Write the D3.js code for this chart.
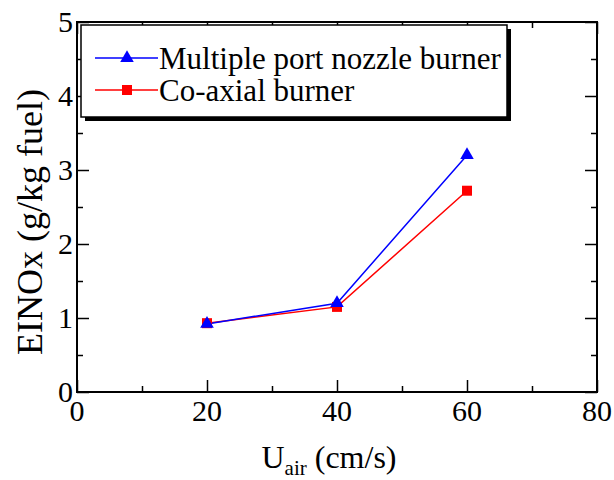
<!DOCTYPE html>
<html>
<head>
<meta charset="utf-8">
<script src="https://cdn.jsdelivr.net/npm/d3@7"></script>
<style>
  body { margin: 0; background: #fff; }
</style>
</head>
<body>
<svg id="chart" width="614" height="480"></svg>
<script>
const X_VALUES = [20, 40, 60]
const MULTI_PORT = [0.92, 1.2, 3.2]
const CO_AXIAL = [0.93, 1.15, 2.72]
const SERIES_NAMES = ['Multiple port nozzle burner', 'Co-axial burner']
const X_TICKS = [0, 20, 40, 60, 80]
const Y_TICKS = [0, 1, 2, 3, 4, 5]

const FONT = "'Liberation Serif', 'Times New Roman', serif"
const margin = { top: 22, right: 17, bottom: 88, left: 77 }
const width = 614
const height = 480

const svg = d3.select('#chart')
  .attr('font-family', FONT)

const x = d3.scaleLinear()
  .domain([0, 80])
  .range([margin.left, width - margin.right])

const y = d3.scaleLinear()
  .domain([0, 5])
  .range([height - margin.bottom, margin.top])

const xMinor = d3.range(10, 80, 20)
const yMinor = d3.range(0.5, 5, 1)

// ticks on all four sides, pointing inward
function tickSide (axisFn, scale, values, size, transform) {
  svg.append('g')
    .attr('transform', transform)
    .call(axisFn(scale).tickValues(values).tickSize(size).tickFormat(''))
    .call(g => g.select('.domain').remove())
    .call(g => g.selectAll('line').attr('stroke', '#000').attr('stroke-width', 1.5))
}

const bottomY = y(0)
const topY = y(5)
const leftX = x(0)
const rightX = x(80)

tickSide(d3.axisTop, x, X_TICKS, 12, `translate(0,${bottomY})`)
tickSide(d3.axisTop, x, xMinor, 6, `translate(0,${bottomY})`)
tickSide(d3.axisBottom, x, X_TICKS, 12, `translate(0,${topY})`)
tickSide(d3.axisBottom, x, xMinor, 6, `translate(0,${topY})`)
tickSide(d3.axisRight, y, Y_TICKS, 12, `translate(${leftX},0)`)
tickSide(d3.axisRight, y, yMinor, 6, `translate(${leftX},0)`)
tickSide(d3.axisLeft, y, Y_TICKS, 12, `translate(${rightX},0)`)
tickSide(d3.axisLeft, y, yMinor, 6, `translate(${rightX},0)`)

svg.append('rect')
  .attr('x', leftX)
  .attr('y', topY)
  .attr('width', rightX - leftX)
  .attr('height', bottomY - topY)
  .attr('fill', 'none')
  .attr('stroke', '#000')
  .attr('stroke-width', 2)

// tick labels
svg.append('g')
  .selectAll('text')
  .data(X_TICKS)
  .join('text')
  .attr('x', d => x(d))
  .attr('y', bottomY + 29)
  .attr('text-anchor', 'middle')
  .style('font-family', FONT)
  .style('font-size', '30px')
  .text(d => d)

svg.append('g')
  .selectAll('text')
  .data(Y_TICKS)
  .join('text')
  .attr('x', leftX - 4)
  .attr('y', d => y(d) + 10)
  .attr('text-anchor', 'end')
  .style('font-family', FONT)
  .style('font-size', '30px')
  .text(d => d)

// axis titles
const xTitle = svg.append('text')
  .attr('x', 329)
  .attr('y', 468)
  .attr('text-anchor', 'middle')
  .style('font-family', FONT)
  .style('font-size', '32px')
xTitle.append('tspan').text('U')
xTitle.append('tspan').attr('dy', 7).style('font-size', '21px').text('air')
xTitle.append('tspan').attr('dy', -7).text(' (cm/s)')

svg.append('text')
  .attr('transform', 'translate(42, 222) rotate(-90)')
  .attr('text-anchor', 'middle')
  .style('font-family', FONT)
  .style('font-size', '36px')
  .text('EINOx (g/kg fuel)')

// series
const seriesList = [
  { name: SERIES_NAMES[1], values: CO_AXIAL, color: '#ff0000', symbol: d3.symbolSquare, size: 100 },
  { name: SERIES_NAMES[0], values: MULTI_PORT, color: '#0000ff', symbol: d3.symbolTriangle, size: 80 }
]

const line = d3.line()
  .x((d, i) => x(X_VALUES[i]))
  .y(d => y(d))

seriesList.forEach(s => {
  svg.append('path')
    .datum(s.values)
    .attr('d', line)
    .attr('fill', 'none')
    .attr('stroke', s.color)
    .attr('stroke-width', 1.5)
})

seriesList.forEach(s => {
  svg.append('g')
    .selectAll('path')
    .data(s.values)
    .join('path')
    .attr('transform', (d, i) => `translate(${x(X_VALUES[i])},${y(d)})`)
    .attr('d', d3.symbol(s.symbol, s.size))
    .attr('fill', s.color)
})

// legend
const lg = { x: 81, y: 25, w: 426, h: 92 }
svg.append('rect')
  .attr('x', lg.x + 4)
  .attr('y', lg.y + 4)
  .attr('width', lg.w)
  .attr('height', lg.h)
  .attr('fill', '#000')
svg.append('rect')
  .attr('x', lg.x)
  .attr('y', lg.y)
  .attr('width', lg.w)
  .attr('height', lg.h)
  .attr('fill', '#fff')
  .attr('stroke', '#000')
  .attr('stroke-width', 1.5)

const legendRows = [seriesList[1], seriesList[0]]
legendRows.forEach((s, i) => {
  const cy = 58 + i * 32
  svg.append('line')
    .attr('x1', 95).attr('x2', 158)
    .attr('y1', cy).attr('y2', cy)
    .attr('stroke', s.color)
    .attr('stroke-width', 1.5)
  svg.append('path')
    .attr('transform', `translate(127,${cy})`)
    .attr('d', d3.symbol(s.symbol, s.size))
    .attr('fill', s.color)
  svg.append('text')
    .attr('x', 159)
    .attr('y', cy + 11)
    .style('font-family', FONT)
    .style('font-size', '31px')
    .text(s.name)
})
</script>
</body>
</html>
